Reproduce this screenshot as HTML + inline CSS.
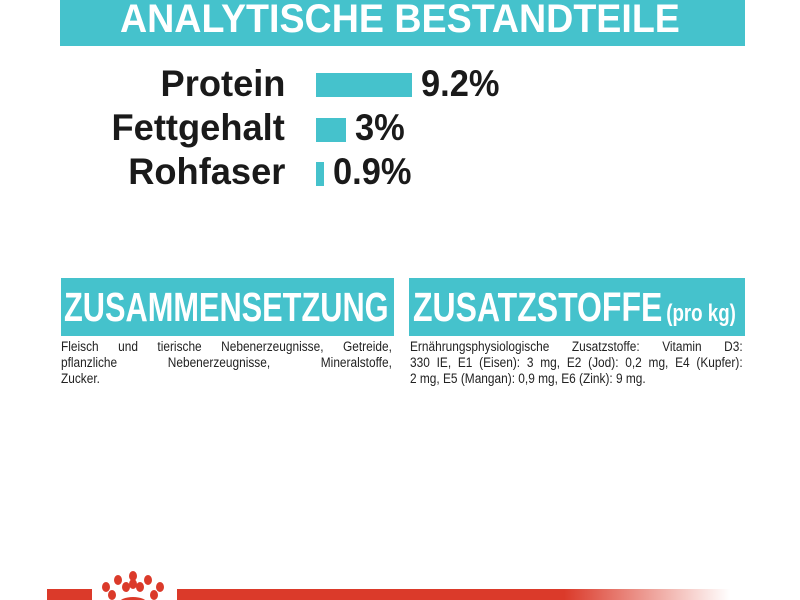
<!DOCTYPE html>
<html><head><meta charset="utf-8"><style>
body{margin:0;width:800px;height:600px;background:#fff;position:relative;overflow:hidden;font-family:"Liberation Sans",sans-serif;font-weight:bold}
.a{position:absolute;white-space:nowrap}
.bar{position:absolute;background:#45c2cc}
.sx{transform-origin:left top}
.lab{position:absolute;font-size:37px;color:#1a1a1a;transform:scaleX(0.98);transform-origin:right top;text-align:right;white-space:nowrap}
.val{position:absolute;font-size:37px;color:#1a1a1a;transform:scaleX(0.93);transform-origin:left top;white-space:nowrap}
.body{position:absolute;font-weight:normal;font-size:13.5px;color:#222;line-height:16px;transform:scaleX(0.88);transform-origin:left top}
.body div{white-space:nowrap}
.j{text-align:justify;text-align-last:justify}
</style></head><body>
<div class="bar" style="left:60px;top:0;width:685px;height:46px"></div>
<div class="a sx" style="left:120px;top:-3px;font-size:40px;color:#fff;transform:scaleX(0.94)">ANALYTISCHE BESTANDTEILE</div>

<div class="lab" style="right:515px;top:63px">Protein</div>
<div class="bar" style="left:316px;top:73px;width:96px;height:24px"></div>
<div class="val" style="left:421px;top:63px">9.2%</div>

<div class="lab" style="right:515px;top:107px">Fettgehalt</div>
<div class="bar" style="left:316px;top:118px;width:30px;height:24px"></div>
<div class="val" style="left:355px;top:107px">3%</div>

<div class="lab" style="right:515px;top:151px">Rohfaser</div>
<div class="bar" style="left:316px;top:162px;width:8px;height:24px"></div>
<div class="val" style="left:333px;top:151px">0.9%</div>

<div class="bar" style="left:61px;top:278px;width:333px;height:58px"></div>
<div class="a sx" style="left:64px;top:284px;font-size:41px;color:#fff;transform:scaleX(0.75)">ZUSAMMENSETZUNG</div>
<div class="bar" style="left:409px;top:278px;width:336px;height:58px"></div>
<div class="a sx" style="left:413px;top:284px;font-size:41px;color:#fff;transform:scaleX(0.78)">ZUSATZSTOFFE<span style="font-size:24px;margin-left:5px">(pro kg)</span></div>

<div class="body" style="left:61px;top:339px;width:376px">
<div class="j">Fleisch und tierische Nebenerzeugnisse, Getreide,</div>
<div class="j">pflanzliche Nebenerzeugnisse, Mineralstoffe,</div>
<div>Zucker.</div></div>
<div class="body" style="left:410px;top:339px;width:378px">
<div class="j">Ernährungsphysiologische Zusatzstoffe: Vitamin D3:</div>
<div class="j">330 IE, E1 (Eisen): 3 mg, E2 (Jod): 0,2 mg, E4 (Kupfer):</div>
<div>2 mg, E5 (Mangan): 0,9 mg, E6 (Zink): 9 mg.</div></div>

<div style="position:absolute;left:47px;top:589px;width:45px;height:11px;background:#db3a2a"></div>
<div style="position:absolute;left:177px;top:589px;width:553px;height:11px;background:linear-gradient(to right,#db3a2a 0,#db3a2a 70%,rgba(219,58,42,0) 100%)"></div>
<svg style="position:absolute;left:0;top:0" width="800" height="600">
<g fill="#db3a2a">
<ellipse cx="133" cy="576" rx="4" ry="5"/>
<ellipse cx="118" cy="580" rx="4" ry="5"/><ellipse cx="148" cy="580" rx="4" ry="5"/>
<ellipse cx="106" cy="587" rx="4" ry="5"/><ellipse cx="160" cy="587" rx="4" ry="5"/>
<ellipse cx="126" cy="587" rx="4" ry="5"/><ellipse cx="140" cy="587" rx="4" ry="5"/>
<ellipse cx="112" cy="595" rx="4" ry="5"/><ellipse cx="154" cy="595" rx="4" ry="5"/>
<ellipse cx="133" cy="584" rx="4" ry="5"/>
<ellipse cx="133" cy="603" rx="14" ry="6"/>
</g></svg>
</body></html>
